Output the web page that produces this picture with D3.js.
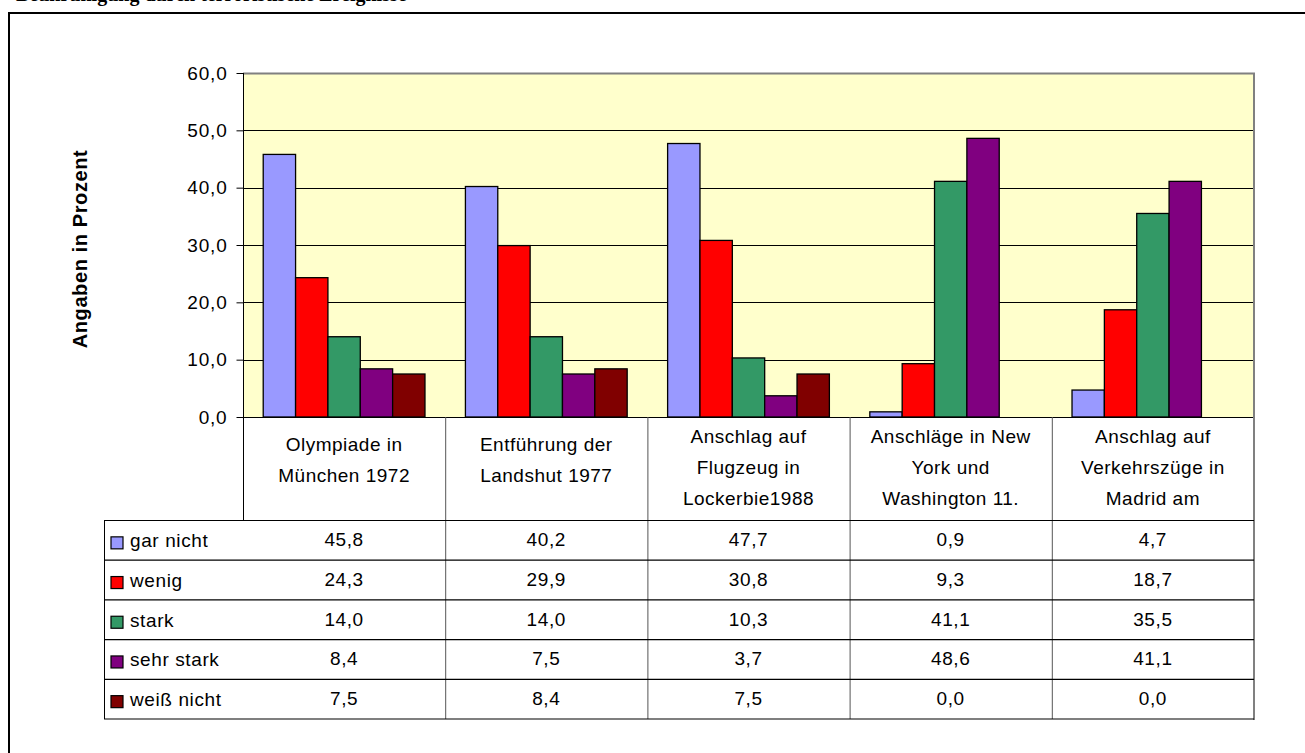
<!DOCTYPE html>
<html>
<head>
<meta charset="utf-8">
<script src="https://cdn.jsdelivr.net/npm/d3@7"></script>
<style>
  body { margin: 0; background: #fff; }
  svg { display: block; font-family: "Liberation Sans", Arial, sans-serif; }
</style>
</head>
<body>
<svg id="chart" width="1305" height="753"></svg>
<script>
// Event categories (label lines as shown in the data table header)
const categories = [
  ["Olympiade in", "München 1972"],
  ["Entführung der", "Landshut 1977"],
  ["Anschlag auf", "Flugzeug in", "Lockerbie1988"],
  ["Anschläge in New", "York und", "Washington 11."],
  ["Anschlag auf", "Verkehrszüge in", "Madrid am"]
];
const seriesNames = ["gar nicht", "wenig", "stark", "sehr stark", "weiß nicht"];
const garNicht   = [45.8, 40.2, 47.7, 0.9, 4.7];
const wenig      = [24.3, 29.9, 30.8, 9.3, 18.7];
const stark      = [14.0, 14.0, 10.3, 41.1, 35.5];
const sehrStark  = [8.4, 7.5, 3.7, 48.6, 41.1];
const weissNicht = [7.5, 8.4, 7.5, 0.0, 0.0];
const yTicks = [0, 10, 20, 30, 40, 50, 60];
const titleText = "Beunruhigung durch terroristische Ereignisse";
const yTitle = "Angaben in Prozent";

const seriesValues = [garNicht, wenig, stark, sehrStark, weissNicht];
const seriesColors = ["#9999FF", "#FF0000", "#339966", "#800080", "#800000"];

const svg = d3.select("#chart");
const fmt = v => d3.format(".1f")(v).replace(".", ",");

// layout
const plot = { left: 243, right: 1254, top: 73, bottom: 417 };
const table = { legendLeft: 104, rowTop: 520.5, rowH: 39.7 };
const fontSize = 19;

// outer frame and title (runs above the top edge of the page)
svg.append("text")
  .attr("x", 16).attr("y", 1)
  .attr("font-family", "Liberation Serif, Times New Roman, serif")
  .attr("font-weight", "bold").attr("font-size", 20)
  .text(titleText);
svg.append("rect")
  .attr("x", 9).attr("y", 13).attr("width", 1400).attr("height", 800)
  .attr("fill", "none").attr("stroke", "#000").attr("stroke-width", 2);

// scales
const y = d3.scaleLinear().domain([0, 60]).range([plot.bottom, plot.top]);
const x = d3.scaleBand().domain(d3.range(categories.length)).range([plot.left, plot.right]);
const xs = d3.scaleBand().domain(d3.range(seriesNames.length))
  .range([0, x.bandwidth()]).paddingOuter(0.625);

// plot area
svg.append("rect")
  .attr("x", plot.left).attr("y", plot.top)
  .attr("width", plot.right - plot.left).attr("height", plot.bottom - plot.top)
  .attr("fill", "#FFFFCC");

// gridlines
svg.append("g").selectAll("line")
  .data(yTicks.filter(t => t > 0 && t < 60))
  .join("line")
  .attr("x1", plot.left).attr("x2", plot.right)
  .attr("y1", d => Math.round(y(d)) + 0.5).attr("y2", d => Math.round(y(d)) + 0.5)
  .attr("stroke", "#000").attr("stroke-width", 1);

// plot border (top and right)
svg.append("path")
  .attr("d", `M${plot.left},${plot.top + 0.5}H${plot.right}V${plot.bottom}`)
  .attr("fill", "none").attr("stroke", "#808080").attr("stroke-width", 2);

// bars
const barData = [];
seriesValues.forEach((vals, s) => vals.forEach((v, c) => barData.push({ s, c, v })));
svg.append("g").selectAll("rect")
  .data(barData.filter(d => d.v > 0))
  .join("rect")
  .attr("x", d => x(d.c) + xs(d.s))
  .attr("y", d => y(d.v))
  .attr("width", xs.bandwidth())
  .attr("height", d => y(0) - y(d.v))
  .attr("fill", d => seriesColors[d.s])
  .attr("stroke", "#000").attr("stroke-width", 1.3);

// baseline
svg.append("line")
  .attr("x1", plot.left).attr("x2", plot.right)
  .attr("y1", plot.bottom + 0.5).attr("y2", plot.bottom + 0.5)
  .attr("stroke", "#000");

// y axis
const yAxis = svg.append("g")
  .attr("transform", `translate(${plot.left + 0.5},0)`)
  .call(d3.axisLeft(y).tickValues(yTicks).tickSize(7).tickPadding(9).tickFormat(fmt));
yAxis.select(".domain").attr("stroke", "#000").attr("d", `M0,${plot.top}V${table.rowTop}`);
yAxis.selectAll(".tick line").attr("stroke", "#000");
yAxis.selectAll(".tick text")
  .attr("font-size", fontSize).attr("font-family", "Liberation Sans, Arial, sans-serif")
  .attr("letter-spacing", 0.8).attr("fill", "#000");

// y axis title
svg.append("text")
  .attr("transform", "translate(87,249) rotate(-90)")
  .attr("text-anchor", "middle")
  .attr("font-weight", "bold").attr("font-size", 20).attr("letter-spacing", 0.6)
  .text(yTitle);

// data table
const rowY = i => table.rowTop + i * table.rowH;
const tableBottom = rowY(seriesNames.length);
const grid = svg.append("g");

// header verticals and row verticals
x.domain().slice(1).forEach(c => {
  grid.append("line")
    .attr("x1", x(c) + 0.5).attr("x2", x(c) + 0.5)
    .attr("y1", plot.bottom).attr("y2", tableBottom)
    .attr("stroke", "#555");
});
grid.append("line")
  .attr("x1", plot.right).attr("x2", plot.right)
  .attr("y1", plot.bottom).attr("y2", tableBottom + 1)
  .attr("stroke", "#808080").attr("stroke-width", 2);
grid.append("line")
  .attr("x1", table.legendLeft + 0.5).attr("x2", table.legendLeft + 0.5)
  .attr("y1", table.rowTop).attr("y2", tableBottom)
  .attr("stroke", "#000");
d3.range(seriesNames.length + 1).forEach(i => {
  grid.append("line")
    .attr("x1", table.legendLeft).attr("x2", plot.right)
    .attr("y1", rowY(i)).attr("y2", rowY(i))
    .attr("stroke", "#000").attr("stroke-width", 1.2);
});

// header category labels
const header = svg.append("g").attr("font-size", fontSize).attr("letter-spacing", 0.5);
categories.forEach((lines, c) => {
  const first = lines.length === 3 ? 443 : 451;
  const t = header.append("text").attr("text-anchor", "middle");
  lines.forEach((ln, i) => {
    t.append("tspan")
      .attr("x", x(c) + x.bandwidth() / 2)
      .attr("y", first + i * 31)
      .text(ln);
  });
});

// legend rows with values
seriesNames.forEach((name, s) => {
  const mid = rowY(s) + table.rowH / 2;
  svg.append("rect")
    .attr("x", 111).attr("y", mid - 3.5)
    .attr("width", 12).attr("height", 12)
    .attr("fill", seriesColors[s]).attr("stroke", "#000").attr("stroke-width", 1.2);
  svg.append("text")
    .attr("x", 130).attr("y", mid + 7)
    .attr("font-size", fontSize).attr("letter-spacing", 0.6)
    .text(name);
  svg.append("g").selectAll("text")
    .data(seriesValues[s])
    .join("text")
    .attr("x", (d, c) => x(c) + x.bandwidth() / 2)
    .attr("y", mid + 6)
    .attr("text-anchor", "middle")
    .attr("font-size", fontSize).attr("letter-spacing", 0.6)
    .text(fmt);
});
</script>
</body>
</html>
